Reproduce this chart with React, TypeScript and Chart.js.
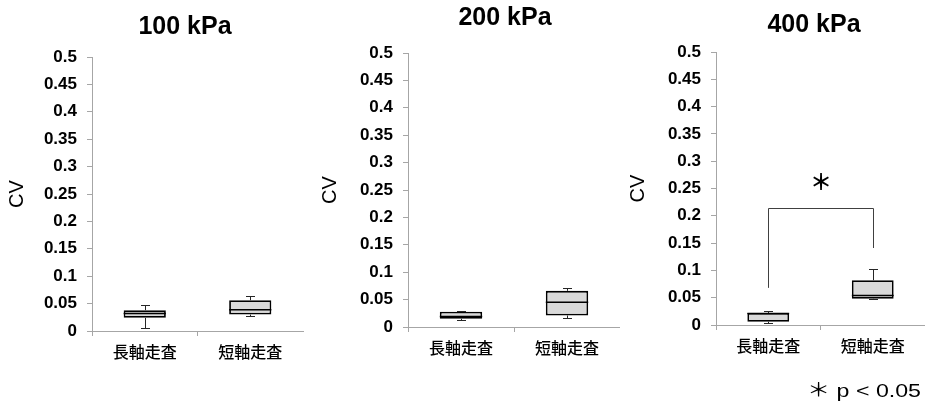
import React, { useEffect, useRef } from 'react';
import { Chart, registerables } from 'chart.js';

Chart.register(...registerables);

// ---------- data ----------
const categories = ['長軸走査', '短軸走査'];
const panelTitles = ['100 kPa', '200 kPa', '400 kPa'];
const yAxisTitle = 'CV';
const whiskerMin = [[0.005, 0.028], [0.013, 0.016], [0.003, 0.047]];
const quartile1 = [[0.024, 0.030], [0.015, 0.021], [0.006, 0.048]];
const medians = [[0.032, 0.039], [0.019, 0.045], [0.021, 0.054]];
const quartile3 = [[0.038, 0.056], [0.028, 0.066], [0.022, 0.082]];
const whiskerMax = [[0.047, 0.064], [0.030, 0.072], [0.026, 0.103]];
const yMin = 0;
const yMax = 0.5;
const yStep = 0.05;
const sigPanel = 2;
const sigBracketTop = 0.214;
const sigBracketEnds = [0.068, 0.141];
const sigStarValue = 0.262;
const sigMark = '＊';
const footnote = '＊ p < 0.05';

// ---------- layout / style ----------
const W = 925;
const H = 409;
const X_AXIS_H = 40;
const AXIS = '#a6a6a6';
const LAT = '"Liberation Sans", Arial, sans-serif';
const CJK = '"Noto Sans CJK JP", sans-serif';

const panels = [
  { left: 0, width: 310, area: { l: 92, r: 303, t: 57, b: 331 }, titleX: 185, titleY: 27, cvX: 17 },
  { left: 310, width: 310, area: { l: 408, r: 620, t: 53, b: 327 }, titleX: 505, titleY: 18, cvX: 330 },
  { left: 620, width: 305, area: { l: 716, r: 925, t: 52, b: 325 }, titleX: 814, titleY: 25, cvX: 638 },
];

const px = (v: number) => Math.round(v) + 0.5;

const boxPlugin = {
  id: 'boxplot',
  afterDatasetsDraw(chart: any, _args: any, opts: any) {
    const p: number = opts.panel;
    const { ctx } = chart;
    const y = chart.scales.y;
    const meta = chart.getDatasetMeta(0);
    ctx.save();
    meta.data.forEach((bar: any, i: number) => {
      const cx = px(bar.x);
      const half = bar.width / 2;
      const cap = 4.5;
      const pMax = px(y.getPixelForValue(whiskerMax[p][i]));
      const pQ3 = y.getPixelForValue(quartile3[p][i]);
      const pQ1 = y.getPixelForValue(quartile1[p][i]);
      const pMin = px(y.getPixelForValue(whiskerMin[p][i]));
      const pMed = y.getPixelForValue(medians[p][i]);
      ctx.strokeStyle = '#262626';
      ctx.lineWidth = 1;
      ctx.beginPath();
      ctx.moveTo(cx, pMax);
      ctx.lineTo(cx, pQ3);
      ctx.moveTo(cx - cap, pMax);
      ctx.lineTo(cx + cap, pMax);
      ctx.moveTo(cx, pQ1);
      ctx.lineTo(cx, pMin);
      ctx.moveTo(cx - cap, pMin);
      ctx.lineTo(cx + cap, pMin);
      ctx.stroke();
      ctx.strokeStyle = '#000';
      ctx.lineWidth = 1.5;
      ctx.beginPath();
      ctx.moveTo(bar.x - half, pMed);
      ctx.lineTo(bar.x + half, pMed);
      ctx.stroke();
    });
    ctx.restore();
  },
  afterDraw(chart: any, _args: any, opts: any) {
    const p: number = opts.panel;
    const g = panels[p];
    const { ctx } = chart;
    ctx.save();
    ctx.fillStyle = '#000';
    ctx.font = `bold 25px ${LAT}`;
    ctx.textAlign = 'center';
    ctx.textBaseline = 'middle';
    ctx.fillText(panelTitles[p], g.titleX - g.left, g.titleY);

    if (p === sigPanel) {
      const x = chart.scales.x;
      const y = chart.scales.y;
      const x0 = px(x.getPixelForValue(0));
      const x1 = px(x.getPixelForValue(1));
      const yt = px(y.getPixelForValue(sigBracketTop));
      ctx.strokeStyle = '#404040';
      ctx.lineWidth = 1;
      ctx.beginPath();
      ctx.moveTo(x0, y.getPixelForValue(sigBracketEnds[0]));
      ctx.lineTo(x0, yt);
      ctx.lineTo(x1, yt);
      ctx.lineTo(x1, y.getPixelForValue(sigBracketEnds[1]));
      ctx.stroke();
      ctx.font = `bold 22px ${CJK}`;
      ctx.textAlign = 'center';
      ctx.textBaseline = 'middle';
      ctx.fillText(sigMark, (x0 + x1) / 2, y.getPixelForValue(sigStarValue));

      ctx.translate(921 - g.left, 392);
      ctx.scale(1.22, 1);
      ctx.font = `19px ${LAT}, ${CJK}`;
      ctx.textAlign = 'right';
      ctx.textBaseline = 'middle';
      ctx.fillText(footnote, 0, 0);
    }
    ctx.restore();
  },
};

function makeConfig(p: number): any {
  const g = panels[p];
  const localL = g.area.l - g.left;
  const localR = g.area.r - g.left;
  return {
    type: 'bar',
    data: {
      labels: categories,
      datasets: [
        {
          data: categories.map((_, i) => [quartile1[p][i], quartile3[p][i]]),
          backgroundColor: '#d9d9d9',
          borderColor: '#000000',
          borderWidth: 1.8,
          borderSkipped: false,
          barPercentage: 0.4,
          categoryPercentage: 1,
        },
      ],
    },
    options: {
      responsive: false,
      maintainAspectRatio: false,
      animation: false,
      devicePixelRatio: 1,
      layout: {
        padding: { left: 0, right: g.width - localR, top: g.area.t, bottom: H - g.area.b - X_AXIS_H },
      },
      plugins: {
        legend: { display: false },
        tooltip: { enabled: false },
        title: { display: false },
        boxplot: { panel: p },
      },
      scales: {
        x: {
          type: 'category',
          afterFit: (s: any) => {
            s.height = X_AXIS_H;
          },
          border: { color: AXIS, width: 1 },
          grid: {
            offset: true,
            drawOnChartArea: false,
            tickLength: 5,
            color: (c: any) => (c.type === 'tick' ? AXIS : 'rgba(0,0,0,0)'),
          },
          ticks: {
            color: '#000',
            font: { family: CJK, size: 16, weight: '500' },
            padding: 6,
            maxRotation: 0,
            autoSkip: false,
          },
        },
        y: {
          min: yMin,
          max: yMax,
          afterFit: (s: any) => {
            s.width = localL;
          },
          border: { color: AXIS, width: 1 },
          grid: { drawOnChartArea: false, tickLength: 5, color: AXIS },
          ticks: {
            stepSize: yStep,
            color: '#000',
            font: { family: LAT, size: 17, weight: 'bold' },
            padding: 10,
            callback: (v: number) => String(Number(Number(v).toFixed(2))),
          },
          title: {
            display: true,
            text: yAxisTitle,
            color: '#000',
            font: { family: LAT, size: 20 },
            padding: { top: g.cvX - g.left - 12, bottom: 0 },
          },
        },
      },
    },
    plugins: [boxPlugin],
  };
}

function Panel({ index }: { index: number }) {
  const ref = useRef<HTMLCanvasElement | null>(null);
  const g = panels[index];
  useEffect(() => {
    if (!ref.current) return;
    const chart = new Chart(ref.current, makeConfig(index));
    return () => chart.destroy();
  }, [index]);
  return (
    <canvas
      ref={ref}
      width={g.width}
      height={H}
      style={{ position: 'absolute', left: g.left, top: 0, width: g.width, height: H }}
    />
  );
}

export default function App() {
  return (
    <div style={{ position: 'absolute', left: 0, top: 0, width: W, height: H, background: '#fff', overflow: 'hidden' }}>
      {panels.map((_, i) => (
        <Panel key={i} index={i} />
      ))}
    </div>
  );
}
